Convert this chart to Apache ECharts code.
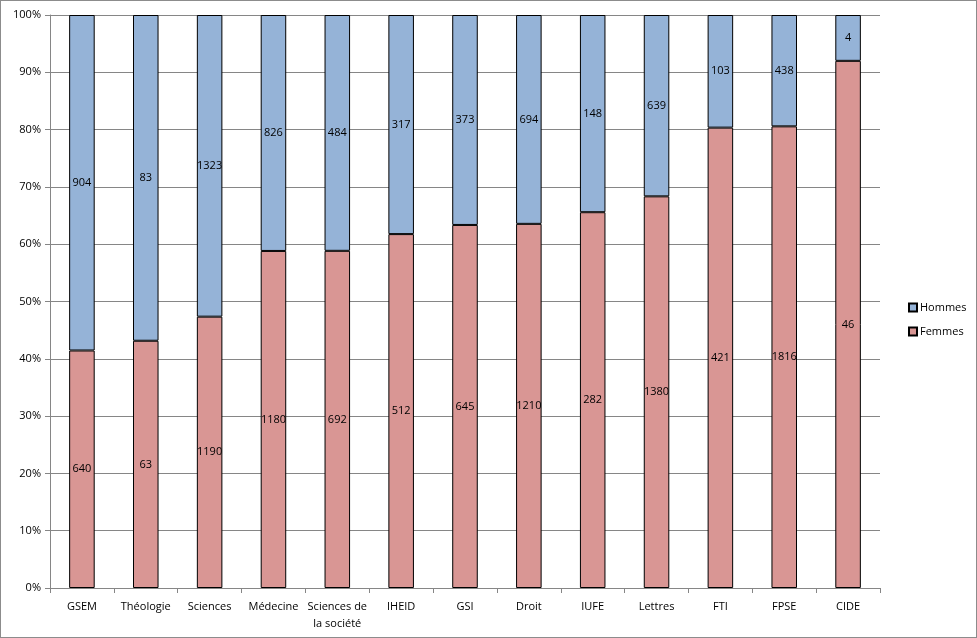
<!DOCTYPE html>
<html><head><meta charset="utf-8">
<script src="https://cdn.jsdelivr.net/npm/echarts@6/dist/echarts.min.js"></script>
<style>html,body{margin:0;padding:0;background:#fff}#c{width:975px;height:636px;border:1px solid #8c8c8c}</style>
</head><body><div id="c"></div>
<script>
var categories = ['GSEM','Théologie','Sciences','Médecine','Sciences de\nla société','IHEID','GSI','Droit','IUFE','Lettres','FTI','FPSE','CIDE'];
var femmes = [640,63,1190,1180,692,512,645,1210,282,1380,421,1816,46];
var hommes = [904,83,1323,826,484,317,373,694,148,639,103,438,4];
var yTicks = ['0%','10%','20%','30%','40%','50%','60%','70%','80%','90%','100%'];

function share(a, b, i){ return a[i] / (a[i] + b[i]) * 100; }
var fData = femmes.map(function(v,i){ return {value: share(femmes,hommes,i), count: v}; });
var hData = hommes.map(function(v,i){ return {value: share(hommes,femmes,i), count: v}; });

var font = 'Open Sans';
var chart = echarts.init(document.getElementById('c'));
chart.setOption({
  animation:false,
  textStyle:{fontFamily:font},
  grid:{left:49,right:96,top:14,bottom:49,containLabel:false},
  legend:{orient:'vertical',left:902,top:296,itemWidth:8,itemHeight:8,itemGap:13,
    data:['Hommes','Femmes'],textStyle:{fontFamily:font,fontSize:11,color:'#000',padding:[0,0,0,-2]},
    icon:'rect'},
  xAxis:{type:'category',data:categories,
    axisLine:{lineStyle:{color:'#868686'}},
    axisTick:{show:true,length:5,lineStyle:{color:'#868686'}},
    axisLabel:{fontFamily:font,fontSize:11,color:'#000',margin:10,lineHeight:17,interval:0}},
  yAxis:{type:'value',min:0,max:100,interval:10,
    axisLine:{show:true,lineStyle:{color:'#868686'}},
    axisTick:{show:true,length:5,lineStyle:{color:'#868686'}},
    splitLine:{lineStyle:{color:'#868686'}},
    axisLabel:{fontFamily:font,fontSize:11,color:'#000',margin:9,
      formatter:function(v){ return yTicks[Math.round(v/10)]; }}},
  series:[
    {name:'Femmes',type:'bar',stack:'s',data:fData,barWidth:'40%',
      itemStyle:{color:'#D99694',borderColor:'#000',borderWidth:1},
      label:{show:true,position:'inside',fontFamily:font,fontSize:11,color:'#000',
        formatter:function(p){return p.data.count;}}},
    {name:'Hommes',type:'bar',stack:'s',data:hData,barWidth:'40%',
      itemStyle:{color:'#95B3D7',borderColor:'#000',borderWidth:1},
      label:{show:true,position:'inside',fontFamily:font,fontSize:11,color:'#000',
        formatter:function(p){return p.data.count;}}}
  ]
});
</script></body></html>
